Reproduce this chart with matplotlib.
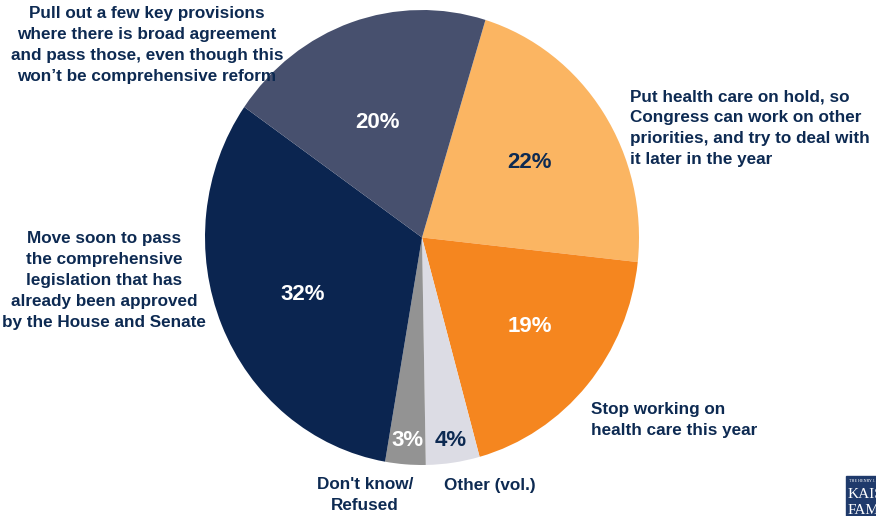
import matplotlib
matplotlib.use("Agg")
import matplotlib.pyplot as plt
from matplotlib.patches import Rectangle

plt.rcParams['font.family'] = ['Liberation Sans', 'DejaVu Sans']
plt.rcParams['font.weight'] = 'bold'

# slices, clockwise from the top
shares = [22, 19, 4, 3, 32, 20]
pct_labels = ["22%", "19%", "4%", "3%", "32%", "20%"]
colors = ["#fbb562", "#f5861f", "#dcdce4", "#939393", "#0b2550", "#47506e"]
pct_colors = ["#0d2a52", "white", "#0d2a52", "white", "white", "white"]

answers = [
    "Put health care on hold, so\nCongress can work on other\npriorities, and try to deal with\nit later in the year",
    "Stop working on\nhealth care this year",
    "Other (vol.)",
    "Don't know/\nRefused",
    "Move soon to pass\nthe comprehensive\nlegislation that has\nalready been approved\nby the House and Senate",
    "Pull out a few key provisions\nwhere there is broad agreement\nand pass those, even though this\nwon\u2019t be comprehensive reform",
]

W, H = 876, 516
fig = plt.figure(figsize=(W / 100, H / 100), dpi=100)
# pie is drawn slightly taller than wide
cx, cy, rx, ry = 422, 237.5, 217, 227.5
ax = fig.add_axes([(cx - rx) / W, (H - cy - ry) / H, 2 * rx / W, 2 * ry / H])

wedges, _ = ax.pie(shares, colors=colors, startangle=73, counterclock=False,
                   radius=1, wedgeprops=dict(linewidth=0))
ax.set_xlim(-1, 1)
ax.set_ylim(-1, 1)
ax.set_aspect('auto')
ax.axis('off')


def px(x, y):
    # pixel position -> axes data coords
    return (x - cx) / rx, (cy - y) / ry


pct_pos = [(530, 163), (530, 327), (451, 441), (407, 441), (303, 295), (378, 122)]
for lab, c, (x, y) in zip(pct_labels, pct_colors, pct_pos):
    ax.text(*px(x, y), lab, ha='center', va='center', fontsize=16,
            color=c, fontweight='bold')

navy = "#0d2a52"
fs = 12.3
ls = 1.5
# label placement: (x, y of first line top, alignment)
label_pos = [(630, 89, 'left'), (591, 402, 'left'), (444, 478, 'left'),
             (365, 477, 'center'), (104, 231, 'center'), (147, 6, 'center')]
for txt, (x, y, ha) in zip(answers, label_pos):
    ax.text(*px(x, y), txt, ha=ha, va='top', fontsize=fs, color=navy,
            fontweight='bold', linespacing=ls, clip_on=False)

# logo block in the corner
fig.patches.append(Rectangle((846 / W, 0), 40 / W, 40 / H, transform=fig.transFigure,
                             color="#1f3a6b", zorder=5))
fig.text(849 / W, (H - 481) / H, "THE HENRY J.", fontsize=3, color="white",
         family='Liberation Serif', fontweight='normal', va='center', zorder=6)
fig.text(848 / W, (H - 495) / H, "KAISER", fontsize=11, color="white",
         family='Liberation Serif', fontweight='normal', va='center', zorder=6)
fig.text(848 / W, (H - 511) / H, "FAMILY", fontsize=11, color="white",
         family='Liberation Serif', fontweight='normal', va='center', zorder=6)

fig.savefig("out.png", dpi=100)
